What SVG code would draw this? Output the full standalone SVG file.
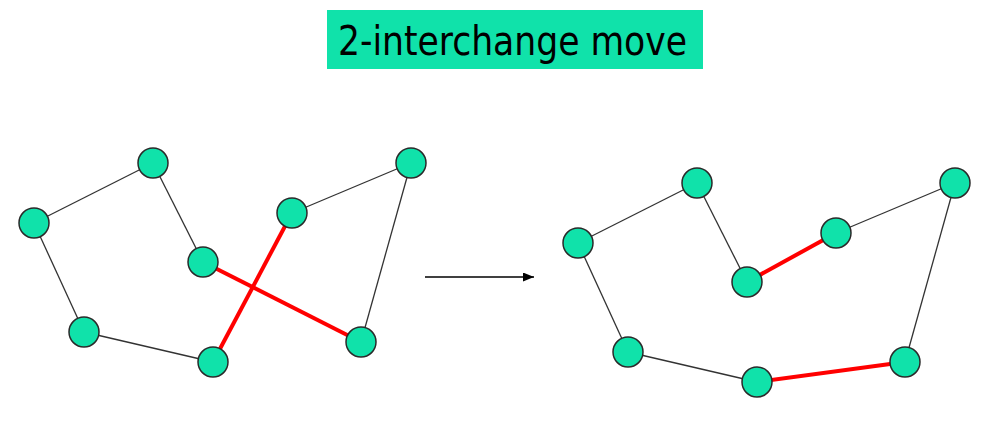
<svg xmlns="http://www.w3.org/2000/svg" width="992" height="422" viewBox="0 0 992 422">
<defs>
<style>
.node{fill:#10e2aa;stroke:#2a2a2a;stroke-width:1.5}
.e{stroke:#333;stroke-width:1.3;fill:none}
.r{stroke:#ff0000;stroke-width:4;fill:none}
.title{font-family:"DejaVu Sans Condensed","DejaVu Sans",sans-serif;font-size:40px;fill:#000}
</style>
<marker id="ah" markerWidth="12" markerHeight="10" refX="11" refY="4.5" orient="auto" markerUnits="userSpaceOnUse">
<path d="M0,0 L11,4.5 L0,9 Z" fill="#000"/>
</marker>
</defs>
<rect width="992" height="422" fill="#fff"/>
<g id="title">
<rect x="327" y="10" width="376" height="59" fill="#10e2aa"/>
<text class="title" x="338" y="55" textLength="349" lengthAdjust="spacingAndGlyphs">2-interchange move</text>
</g>
<g id="connectors">
<line class="e" x1="153" y1="163" x2="34" y2="223"/>
<line class="e" x1="34" y1="223" x2="84" y2="332"/>
<line class="e" x1="84" y1="332" x2="213" y2="362"/>
<line class="e" x1="153" y1="163" x2="203" y2="262"/>
<line class="e" x1="292" y1="213" x2="411" y2="163"/>
<line class="e" x1="411" y1="163" x2="361" y2="342"/>
<line class="r" x1="203" y1="262" x2="361" y2="342"/>
<line class="r" x1="213" y1="362" x2="292" y2="213"/>
<line class="e" x1="697" y1="183" x2="578" y2="243"/>
<line class="e" x1="578" y1="243" x2="628" y2="352"/>
<line class="e" x1="628" y1="352" x2="757" y2="382"/>
<line class="e" x1="697" y1="183" x2="747" y2="282"/>
<line class="e" x1="836" y1="233" x2="955" y2="183"/>
<line class="e" x1="955" y1="183" x2="905" y2="362"/>
<line class="r" x1="747" y1="282" x2="836" y2="233"/>
<line class="r" x1="757" y1="382" x2="905" y2="362"/>
<line x1="425" y1="277" x2="534" y2="277" stroke="#000" stroke-width="1.3" marker-end="url(#ah)"/>
</g>
<g id="n1"><circle class="node" cx="153" cy="163" r="15"/></g>
<g id="n2"><circle class="node" cx="34" cy="223" r="15"/></g>
<g id="n3"><circle class="node" cx="84" cy="332" r="15"/></g>
<g id="n4"><circle class="node" cx="213" cy="362" r="15"/></g>
<g id="n5"><circle class="node" cx="203" cy="262" r="15"/></g>
<g id="n6"><circle class="node" cx="292" cy="213" r="15"/></g>
<g id="n7"><circle class="node" cx="411" cy="163" r="15"/></g>
<g id="n8"><circle class="node" cx="361" cy="342" r="15"/></g>
<g id="m1"><circle class="node" cx="697" cy="183" r="15"/></g>
<g id="m2"><circle class="node" cx="578" cy="243" r="15"/></g>
<g id="m3"><circle class="node" cx="628" cy="352" r="15"/></g>
<g id="m4"><circle class="node" cx="757" cy="382" r="15"/></g>
<g id="m5"><circle class="node" cx="747" cy="282" r="15"/></g>
<g id="m6"><circle class="node" cx="836" cy="233" r="15"/></g>
<g id="m7"><circle class="node" cx="955" cy="183" r="15"/></g>
<g id="m8"><circle class="node" cx="905" cy="362" r="15"/></g>
</svg>
